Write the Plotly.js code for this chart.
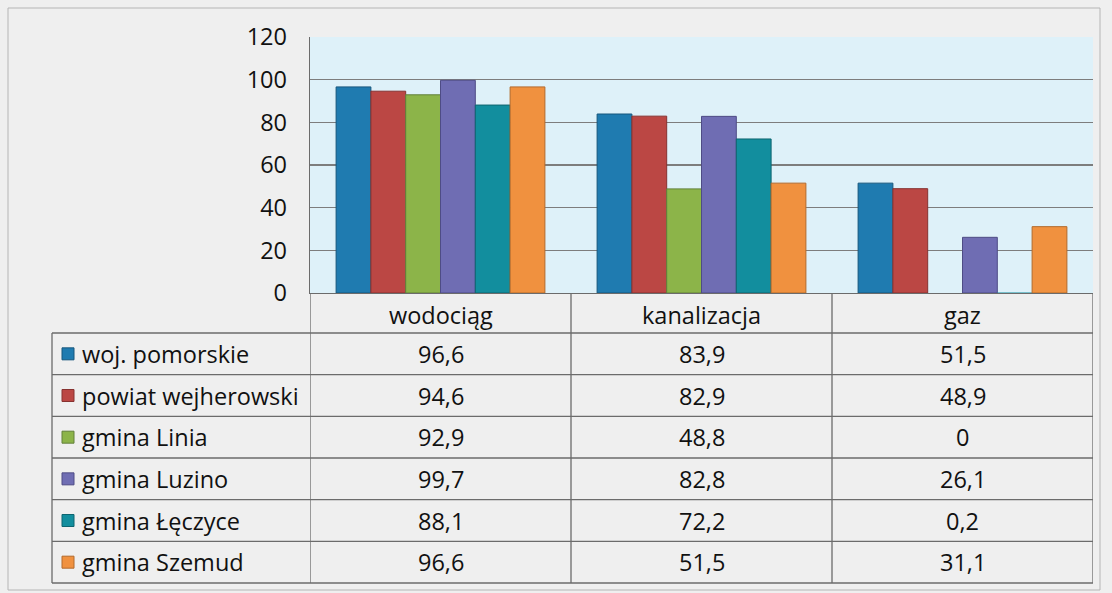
<!DOCTYPE html>
<html>
<head>
<meta charset="utf-8">
<script src="https://cdn.plot.ly/plotly-3.0.1.min.js"></script>
<style>
html,body{margin:0;padding:0;background:#efefef;}
#chart{width:1112px;height:593px;}
</style>
</head>
<body>
<div id="chart"></div>
<script>
// ---- data ----
const categories = ["wodociąg", "kanalizacja", "gaz"];
const seriesNames = ["woj. pomorskie", "powiat wejherowski", "gmina Linia", "gmina Luzino", "gmina Łęczyce", "gmina Szemud"];
const wojPomorskie = [96.6, 83.9, 51.5];
const powiatWejherowski = [94.6, 82.9, 48.9];
const gminaLinia = [92.9, 48.8, 0];
const gminaLuzino = [99.7, 82.8, 26.1];
const gminaLeczyce = [88.1, 72.2, 0.2];
const gminaSzemud = [96.6, 51.5, 31.1];
const yTicks = [0, 20, 40, 60, 80, 100, 120];

const seriesValues = [wojPomorskie, powiatWejherowski, gminaLinia, gminaLuzino, gminaLeczyce, gminaSzemud];
const colors = ["#1f7bb0", "#bb4744", "#8cb449", "#6f6db3", "#128e9e", "#f0913f"];
const lineColors = ["#17577d", "#873230", "#62803a", "#4e4c85", "#0d6570", "#b36a2c"];

// ---- geometry (pixels) ----
const W = 1112, H = 593;
const mL = 310, mR = 19, mT = 37, mB = 300;
const plotW = W - mL - mR, plotH = H - mT - mB;
const px = x => (x - mL) / plotW;            // pixel x -> paper
const py = y => (H - mB - y) / plotH;        // pixel y -> paper
const headerBottom = 333, rowH = 41.67;
const tableLeft = 52;
const FONT = "'Open Sans', Lato, sans-serif";
const FS = 23.5;
const TXT = "#111111";

const traces = seriesNames.map((name, i) => ({
  type: "bar",
  name: name,
  x: categories,
  y: seriesValues[i],
  marker: {color: colors[i],
    line: {color: lineColors[i], width: seriesValues[i].map(v => v >= 1 ? 1 : 0)}},
  hoverinfo: "x+y+name"
}));

const shapes = [];
const annotations = [];
const gridColor = "#6b6b6b";

// outer chart border
shapes.push({type: "rect", xref: "paper", yref: "paper",
  x0: px(8), x1: px(1100), y0: py(8), y1: py(590),
  line: {color: "#b5b5b5", width: 1}, layer: "below"});

// table vertical lines: category boundaries
const catBounds = [-0.5];
categories.forEach((c, i) => catBounds.push(i + 0.5));
const tableBottomY = py(headerBottom + rowH * seriesNames.length);
catBounds.forEach(b => {
  shapes.push({type: "line", xref: "x", yref: "paper", x0: b, x1: b,
    y0: py(H - mB), y1: tableBottomY, line: {color: gridColor, width: 1.3}});
});
// left border of legend column
shapes.push({type: "line", xref: "paper", yref: "paper", x0: px(tableLeft), x1: px(tableLeft),
  y0: py(headerBottom), y1: tableBottomY, line: {color: gridColor, width: 1.3}});
// horizontal lines
for (let r = 0; r <= seriesNames.length; r++) {
  const yy = py(headerBottom + rowH * r);
  shapes.push({type: "line", xref: "paper", yref: "paper", x0: px(tableLeft), x1: 1,
    y0: yy, y1: yy, line: {color: gridColor, width: 1.3}});
}

// header labels
categories.forEach((c, i) => {
  annotations.push({xref: "x", yref: "paper", x: i, y: py((H - mB + headerBottom) / 2 + 2),
    text: c, showarrow: false, xanchor: "center", yanchor: "middle",
    font: {family: FONT, size: FS, color: TXT}});
});

// rows
seriesNames.forEach((name, r) => {
  const yc = py(headerBottom + rowH * (r + 0.5));
  // legend key
  shapes.push({type: "rect", xref: "paper", yref: "paper",
    x0: px(62), x1: px(74), y0: yc - 6 / plotH, y1: yc + 6 / plotH,
    fillcolor: colors[r], line: {color: lineColors[r], width: 1}});
  annotations.push({xref: "paper", yref: "paper", x: px(80), y: yc,
    text: name, showarrow: false, xanchor: "left", yanchor: "middle",
    font: {family: FONT, size: FS, color: TXT}});
  categories.forEach((c, i) => {
    annotations.push({xref: "x", yref: "paper", x: i, y: yc,
      text: String(seriesValues[r][i]).replace(".", ","), showarrow: false,
      xanchor: "center", yanchor: "middle",
      font: {family: FONT, size: FS, color: TXT}});
  });
});

const layout = {
  width: W, height: H,
  margin: {l: mL, r: mR, t: mT, b: mB, pad: 0},
  paper_bgcolor: "#efefef",
  plot_bgcolor: "#def1f9",
  barmode: "group",
  bargap: 0.2,
  bargroupgap: 0,
  showlegend: false,
  font: {family: FONT, size: FS, color: TXT},
  xaxis: {
    type: "category",
    range: [-0.5, categories.length - 0.5],
    showticklabels: false,
    ticks: "",
    showgrid: false,
    showline: true, linecolor: gridColor, linewidth: 1.3,
    mirror: false, zeroline: false, fixedrange: true
  },
  yaxis: {
    range: [0, 120],
    tickvals: yTicks,
    ticktext: yTicks.map(String),
    ticks: "",
    ticklabelstandoff: 17,
    tickfont: {family: FONT, size: FS, color: TXT},
    showgrid: true, gridcolor: "#7d7d7d", gridwidth: 1.2,
    showline: true, linecolor: gridColor, linewidth: 1.3,
    zeroline: false, fixedrange: true
  },
  shapes: shapes,
  annotations: annotations
};

Plotly.newPlot("chart", traces, layout, {displayModeBar: false, staticPlot: true});
</script>
</body>
</html>
